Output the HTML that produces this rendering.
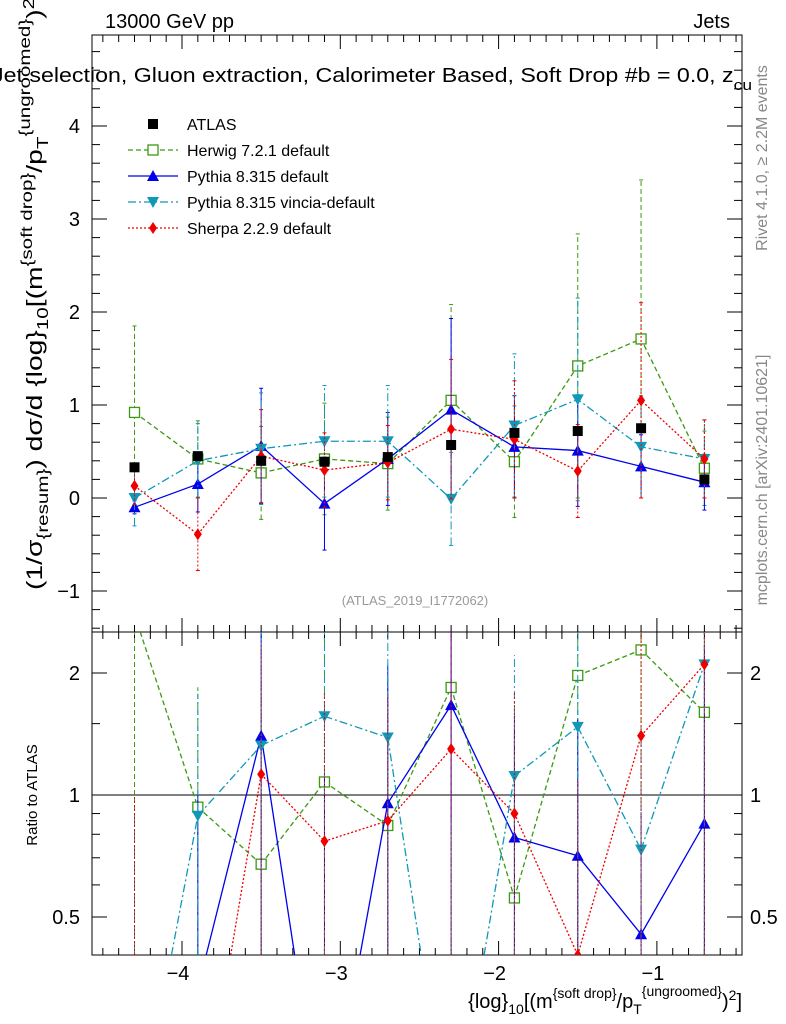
<!DOCTYPE html>
<html><head><meta charset="utf-8"><style>
body{margin:0;background:#fff;overflow:hidden}
svg{display:block;font-family:"Liberation Sans",sans-serif}
</style></head><body>
<svg id="c" width="786" height="1024" viewBox="0 0 786 1024"></svg>
<script>
const xs=[-4.3,-3.9,-3.5,-3.1,-2.7,-2.3,-1.9,-1.5,-1.1,-0.7];
const atlas=[0.33,0.45,0.40,0.39,0.44,0.57,0.70,0.72,0.75,0.20];
const atlasErr=[0.03,0.03,0.03,0.03,0.03,0.03,0.04,0.04,0.05,0.04];
const herwig=[0.92,0.42,0.27,0.42,0.37,1.05,0.39,1.42,1.71,0.32];
const herwigErr=[0.93,0.41,0.5,0.6,0.5,1.03,0.6,1.42,1.71,0.4];
const pythia=[-0.10,0.15,0.56,-0.06,0.42,0.95,0.55,0.51,0.34,0.17];
const pythiaErr=[0.07,0.3,0.62,0.5,0.5,0.98,0.55,0.6,0.34,0.3];
const vincia=[0.00,0.40,0.53,0.61,0.61,-0.01,0.78,1.06,0.55,0.42];
const vinciaErr=[0.3,0.4,0.6,0.6,0.6,0.5,0.77,1.09,0.55,0.42];
const sherpa=[0.13,-0.39,0.45,0.30,0.38,0.74,0.63,0.29,1.05,0.42];
const sherpaErr=[0.2,0.39,0.5,0.4,0.4,0.75,0.63,0.5,1.05,0.42];
const yTicks=[-1,0,1,2,3,4];
const xTicks=[-4,-3,-2,-1];
const rTicks=[0.5,1,2];

const NS="http://www.w3.org/2000/svg";
const svg=document.getElementById('c');
function el(t,a,p){const e=document.createElementNS(NS,t);for(const k in a)e.setAttribute(k,a[k]);(p||svg).appendChild(e);return e;}
const L=92,R=742,T=35,MB=632,RB=955;
const X=v=>182+(v+4)*158.3;
const Y=v=>498-v*93;
const RY=v=>795-Math.log2(v)*122;
const RYraw=v=>v>0.11?RY(v):1150;
const RYc=v=>Math.min(RB,Math.max(MB,RYraw(v)));

const defs=el('defs',{});
let cp=el('clipPath',{id:'cm'},defs);el('rect',{x:L,y:T,width:R-L,height:MB-T},cp);
cp=el('clipPath',{id:'cr'},defs);el('rect',{x:L,y:MB,width:R-L,height:RB-MB},cp);

let f=el('rect',{x:L,y:T,width:R-L,height:MB-T,fill:'none',stroke:'#000'});

f=el('rect',{x:L,y:MB,width:R-L,height:RB-MB,fill:'none',stroke:'#000'});


for(let v=-4.6;v<=-0.4;v+=0.1){const vv=Math.round(v*10)/10;const px=X(vv);if(px<L||px>R)continue;
 const maj=Math.abs(vv-Math.round(vv))<1e-6;const len=maj?14:7;
 for(const [t,b] of [[T,MB],[MB,RB]]){el('line',{x1:px,y1:b,x2:px,y2:b-len,stroke:'#000'});el('line',{x1:px,y1:t,x2:px,y2:t+len,stroke:'#000'});}}
xTicks.forEach(v=>{const t=el('text',{x:X(v)-4,y:980,'font-size':20,'text-anchor':'middle'});t.textContent='\u2212'+Math.abs(v);
 });
for(let v=-1.4;v<=5.5;v+=0.2){const vv=Math.round(v*10)/10;const py=Y(vv);if(py<T||py>MB)continue;
 const maj=Math.abs(vv-Math.round(vv))<1e-6;const len=maj?15:8;
 el('line',{x1:L,y1:py,x2:L+len,y2:py,stroke:'#000'});el('line',{x1:R,y1:py,x2:R-len,y2:py,stroke:'#000'});}
yTicks.forEach(v=>{const t=el('text',{x:80,y:Y(v)+7,'font-size':20,'text-anchor':'end'});t.textContent=v<0?'\u2212'+Math.abs(v):v;
 });
[0.5,0.6,0.7,0.8,0.9,1,1.5,2].forEach(v=>{const py=RY(v);const maj=rTicks.includes(v);const len=maj?15:8;
 el('line',{x1:L,y1:py,x2:L+len,y2:py,stroke:'#000'});el('line',{x1:R,y1:py,x2:R-len,y2:py,stroke:'#000'});});
rTicks.forEach(v=>{let t=el('text',{x:80,y:RY(v)+7,'font-size':20,'text-anchor':'end'});t.textContent=v;
 
 t=el('text',{x:750,y:RY(v)+7,'font-size':20});t.textContent=v;
 });
el('line',{x1:L,y1:RY(1),x2:R,y2:RY(1),stroke:'#000'});

function marker(g,kind,px,py,col){
 if(kind==='sq')return el('rect',{x:px-5,y:py-5,width:10,height:10,fill:col},g);
 if(kind==='osq')return el('rect',{x:px-5,y:py-5,width:10,height:10,fill:'#fff',stroke:col,'stroke-width':1.3},g);
 if(kind==='tu')return el('path',{d:`M${px},${py-6}L${px+6},${py+5}L${px-6},${py+5}Z`,fill:col},g);
 if(kind==='td')return el('path',{d:`M${px},${py+6}L${px+6},${py-5}L${px-6},${py-5}Z`,fill:col},g);
 if(kind==='di')return el('path',{d:`M${px},${py-6}L${px+4},${py}L${px},${py+6}L${px-4},${py}Z`,fill:col},g);
}
function clipSeg(x1,y1,x2,y2){
 let t0=0,t1=1;const dy=y2-y1;
 if(dy===0){if(y1<MB||y1>RB)return null;}
 else{let ta=(MB-y1)/dy,tb=(RB-y1)/dy;if(ta>tb)[ta,tb]=[tb,ta];t0=Math.max(t0,ta);t1=Math.min(t1,tb);if(t0>t1)return null;}
 return [x1+(x2-x1)*t0,y1+dy*t0,x1+(x2-x1)*t1,y1+dy*t1];
}
const series=[
 {name:'herwig',vals:herwig,err:herwigErr,col:'#3a9a10',dash:'5,3',kind:'osq',label:'Herwig 7.2.1 default'},
 {name:'pythia',vals:pythia,err:pythiaErr,col:'#0000ee',dash:'',kind:'tu',label:'Pythia 8.315 default'},
 {name:'vincia',vals:vincia,err:vinciaErr,col:'#1098b8',dash:'8,3,2,3',kind:'td',label:'Pythia 8.315 vincia-default'},
 {name:'sherpa',vals:sherpa,err:sherpaErr,col:'#ee0000',dash:'2,2',kind:'di',label:'Sherpa 2.2.9 default'},
];
const gm=el('g',{'clip-path':'url(#cm)'});
const gr=el('g',{'clip-path':'url(#cr)'});
series.forEach(s=>{
 const g=el('g',{},gm);
 const g2=el('g',{},gr);
 let d='',d2='';
 xs.forEach((x,i)=>{const px=X(x),py=Y(s.vals[i]);d+=(i?'L':'M')+px+','+py;
  const lo=Y(s.vals[i]-s.err[i]),hi=Y(s.vals[i]+s.err[i]);
  el('line',{x1:px,y1:lo,x2:px,y2:hi,stroke:s.col,'stroke-dasharray':s.dash||'none'},g);
  el('line',{x1:px-2,y1:hi,x2:px+2,y2:hi,stroke:s.col},g);el('line',{x1:px-2,y1:lo,x2:px+2,y2:lo,stroke:s.col},g);
  const r=s.vals[i]/atlas[i],re=s.err[i]/atlas[i];
  el('line',{x1:px,y1:RYc(r-re),x2:px,y2:RYc(r+re),stroke:s.col,'stroke-dasharray':s.dash||'none'},g2);
  if(i>0){const r0=s.vals[i-1]/atlas[i-1];
   const c=clipSeg(X(xs[i-1]),RYraw(r0),px,RYraw(r));
   if(c)d2+='M'+c[0]+','+c[1]+'L'+c[2]+','+c[3];}
 });
 el('path',{d:d,fill:'none',stroke:s.col,'stroke-width':1.3,'stroke-dasharray':s.dash||'none'},g);
 if(d2)el('path',{d:d2,fill:'none',stroke:s.col,'stroke-width':1.3,'stroke-dasharray':s.dash||'none'},g2);
 xs.forEach((x,i)=>{let m=marker(g,s.kind,X(x),Y(s.vals[i]),s.col);
  const r=s.vals[i]/atlas[i];if(r>0.38&&r<2.6){m=marker(g2,s.kind,X(x),RY(r),s.col);}});
});
const ga=el('g',{},gm);
xs.forEach((x,i)=>{const px=X(x);el('line',{x1:px,y1:Y(atlas[i]-atlasErr[i]),x2:px,y2:Y(atlas[i]+atlasErr[i]),stroke:'#000'},ga);
 const m=marker(ga,'sq',px,Y(atlas[i]),'#000');});

const lg=el('g',{});
const rows=[{kind:'sq',col:'#000',label:'ATLAS',dash:null}].concat(series);
rows.forEach((s,i)=>{const y=124+i*26;const e=el('g',{},lg);
 if(s.dash!==null)el('line',{x1:128,y1:y,x2:178,y2:y,stroke:s.col,'stroke-width':1.3,'stroke-dasharray':s.dash||'none'},e);
 marker(e,s.kind,153,y,s.col);const t=el('text',{x:187,y:y+6,'font-size':16},e);t.textContent=s.label;});

function txt(x,y,s,attrs,name){const t=el('text',Object.assign({x:x,y:y},attrs));t.innerHTML=s;return t;}
txt(105,28,'13000 GeV pp',{'font-size':20},'energy-label');
txt(730,28,'Jets',{'font-size':20,'text-anchor':'end'},'jets-label');
txt(-8,82,'Jet selection, Gluon extraction, Calorimeter Based, Soft Drop #b = 0.0, z<tspan dy="8" font-size="15">cu</tspan>',{'font-size':20,textLength:760,lengthAdjust:'spacingAndGlyphs'},'plot-title');
txt(415,605,'(ATLAS_2019_I1772062)',{'font-size':13,fill:'#999','text-anchor':'middle'},'analysis-label');
txt(0,0,'Rivet 4.1.0, \u2265 2.2M events',{'font-size':16,fill:'#888','text-anchor':'middle',transform:'translate(767,158) rotate(-90)'},'rivet-label');
txt(0,0,'mcplots.cern.ch [arXiv:2401.10621]',{'font-size':16,fill:'#888','text-anchor':'middle',transform:'translate(767,480) rotate(-90)'},'mcplots-label');
txt(0,0,'(1/\u03c3<tspan dy="6" font-size="16">{resum}</tspan><tspan dy="-6">) d\u03c3/d {log}</tspan><tspan dy="6" font-size="16">10</tspan><tspan dy="-6">[(m</tspan><tspan dy="-10" font-size="16">{soft drop}</tspan><tspan dy="10">/p</tspan><tspan dy="6" font-size="16">T</tspan><tspan dy="-18" font-size="16">{ungroomed}</tspan><tspan dy="12">)</tspan><tspan dy="-8" font-size="16">2</tspan><tspan dy="8">]</tspan>',{'font-size':22,'text-anchor':'start',textLength:600,lengthAdjust:'spacingAndGlyphs',transform:'translate(42,590) rotate(-90)'},'y-axis-title');
txt(0,0,'Ratio to ATLAS',{'font-size':15,'text-anchor':'middle',transform:'translate(37,795) rotate(-90)'},'ratio-axis-title');
txt(742,1008,'{log}<tspan dy="6" font-size="14">10</tspan><tspan dy="-6">[(m</tspan><tspan dy="-10" font-size="14">{soft drop}</tspan><tspan dy="10">/p</tspan><tspan dy="6" font-size="14">T</tspan><tspan dy="-18" font-size="14">{ungroomed}</tspan><tspan dy="12">)</tspan><tspan dy="-8" font-size="14">2</tspan><tspan dy="8">]</tspan>',{'font-size':20,'text-anchor':'end'},'x-axis-title');
</script>
</body></html>
